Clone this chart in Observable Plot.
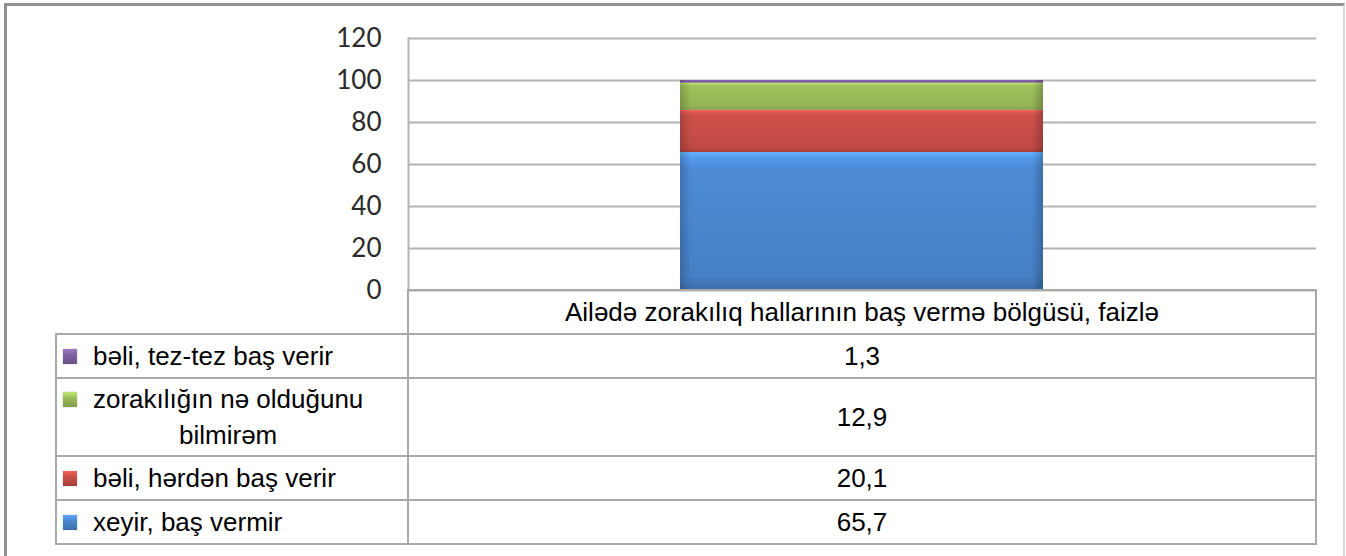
<!DOCTYPE html>
<html><head><meta charset="utf-8">
<script src="https://cdn.jsdelivr.net/npm/d3@7"></script>
<script src="https://cdn.jsdelivr.net/npm/@observablehq/plot@0.6"></script>
<style>
html,body{margin:0;padding:0;background:#fff;}
#wrap{position:relative;width:1346px;height:556px;overflow:hidden;background:#fff;}
#frame{position:absolute;left:4px;top:3px;width:1336px;height:600px;border-top:3px solid #929292;border-left:3px solid #929292;border-right:2px solid #d8d8d8;}
#chart{position:absolute;left:0;top:0;}
.cell{position:absolute;box-sizing:border-box;border:2px solid #a9a9a9;display:flex;align-items:center;font-family:"Liberation Sans",Arial,sans-serif;font-size:26px;color:#000;}
.val{justify-content:center;}
.key{flex:none;width:14px;height:15px;margin-left:6px;margin-right:16px;}
.lab{display:inline-block;text-align:center;line-height:36px;white-space:pre-line;}
</style></head>
<body><div id="wrap"><div id="frame"></div><div id="chart"></div></div>
<script>
// ---- data ----
const categories = ["Ailədə zorakılıq hallarının baş vermə bölgüsü, faizlə"];
const series = ["xeyir, baş vermir", "bəli, hərdən baş verir", "zorakılığın nə olduğunu bilmirəm", "bəli, tez-tez baş verir"];
const values = [65.7, 20.1, 12.9, 1.3];
const colors = ["#4a86cf", "#c94d48", "#9bbb59", "#7f62a1"];
const yTicks = [0, 20, 40, 60, 80, 100, 120];

const data = series.map((s, i) => ({category: categories[0], series: s, value: values[i]}));
const gradIds = series.map((s, i) => "grad" + i);

const plot = Plot.plot({
  width: 1346,
  height: 310,
  marginLeft: 408,
  marginRight: 30,
  marginTop: 38,
  marginBottom: 20,
  style: {fontFamily: "Lato, 'Open Sans', sans-serif", fontSize: "26px", color: "#2a2a2a", background: "transparent"},
  x: {domain: categories, axis: null, paddingInner: 0.6, paddingOuter: 0.3},
  y: {domain: [0, 120], ticks: yTicks, label: null},
  color: {domain: series, range: gradIds.map(id => `url(#${id})`)},
  marks: [
    Plot.gridY(yTicks, {stroke: "#b3b3b3", strokeOpacity: 1, strokeWidth: 2}),
    Plot.frame({anchor: "left", stroke: "#b3b3b3", strokeWidth: 2}),
    Plot.axisY(yTicks, {tickSize: 0, tickPadding: 27, label: null, tickFormat: d => String(d)}),
    Plot.barY(data, {x: "category", y: "value", fill: "series", order: null}),
    Plot.barY(data, {x: "category", y: "value", fill: "url(#edge)", order: null})
  ]
});

// gradient definitions
const ns = "http://www.w3.org/2000/svg";
const defs = document.createElementNS(ns, "defs");
function stop(g, off, col, op) {
  const s = document.createElementNS(ns, "stop");
  s.setAttribute("offset", off);
  s.setAttribute("stop-color", col);
  if (op !== undefined) s.setAttribute("stop-opacity", op);
  g.appendChild(s);
}
colors.forEach((c, i) => {
  const g = document.createElementNS(ns, "linearGradient");
  g.setAttribute("id", gradIds[i]);
  g.setAttribute("x1", 0); g.setAttribute("y1", 0); g.setAttribute("x2", 0); g.setAttribute("y2", 1);
  const b = d3.rgb(c);
  stop(g, 0, b.brighter(0.8).formatHex());
  stop(g, 0.05, b.brighter(0.35).formatHex());
  stop(g, 0.12, b.brighter(0.1).formatHex());
  stop(g, 0.9, b.darker(0.15).formatHex());
  stop(g, 1, b.darker(0.55).formatHex());
  defs.appendChild(g);
});
const e = document.createElementNS(ns, "linearGradient");
e.setAttribute("id", "edge");
stop(e, 0, "#000", 0.18); stop(e, 0.03, "#000", 0); stop(e, 0.97, "#000", 0); stop(e, 1, "#000", 0.22);
defs.appendChild(e);
plot.insertBefore(defs, plot.firstChild);
document.getElementById("chart").appendChild(plot);

// ---- data table below the plot ----
const wrap = document.getElementById("wrap");
const xs = [56, 408, 1316];
const rowEdges = [290, 334, 378, 456, 500, 544];
const ctx = document.createElement("canvas").getContext("2d");
ctx.font = "26px 'Liberation Sans'";
function cell(x0, x1, y0, y1, cls) {
  const d = document.createElement("div");
  d.className = "cell " + (cls || "");
  d.style.left = (x0 - 1) + "px";
  d.style.top = (y0 - 1) + "px";
  d.style.width = (x1 - x0 + 2) + "px";
  d.style.height = (y1 - y0 + 2) + "px";
  wrap.appendChild(d);
  return d;
}
cell(xs[1], xs[2], rowEdges[0], rowEdges[1], "val").textContent = categories[0];
const tableRows = series.map((s, i) => i).reverse();
tableRows.forEach((si, r) => {
  const y0 = rowEdges[r + 1], y1 = rowEdges[r + 2];
  const lc = cell(xs[0], xs[1], y0, y1, "");
  const key = document.createElement("span");
  key.className = "key";
  const b = d3.rgb(colors[si]);
  key.style.background = `linear-gradient(${b.brighter(0.6).formatHex()}, ${b.formatHex()} 40%, ${b.darker(0.5).formatHex()})`;
  key.style.boxShadow = "0 0 1px rgba(0,0,0,0.4)";
  const lab = document.createElement("span");
  lab.className = "lab";
  let text = series[si];
  if (ctx.measureText(text).width > 300) {
    text = text.replace(/ (\S+)$/, "\n$1");
    key.style.alignSelf = "flex-start";
    key.style.marginTop = "13px";
  }
  lab.textContent = text;
  lc.appendChild(key); lc.appendChild(lab);
  cell(xs[1], xs[2], y0, y1, "val").textContent = String(values[si]).replace(".", ",");
});
</script></body></html>
